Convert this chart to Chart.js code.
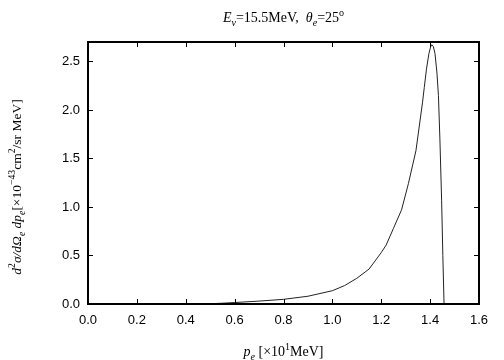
<!DOCTYPE html>
<html>
<head>
<meta charset="utf-8">
<script src="https://cdn.jsdelivr.net/npm/chart.js@4.4.1/dist/chart.umd.min.js"></script>
<style>
  html, body { margin: 0; padding: 0; background: #fff; }
  #wrap { width: 504px; height: 360px; }
</style>
</head>
<body>
<div id="wrap"><canvas id="xsChart" width="504" height="360"></canvas></div>
<script>
// electron momentum p_e [x10 MeV] and cross section [x10^-43 cm^2/sr MeV]
const momentum = [0.45, 0.5, 0.55, 0.6, 0.7, 0.8, 0.9, 1.0, 1.05, 1.1, 1.15, 1.2, 1.22, 1.25, 1.283, 1.311, 1.342, 1.369, 1.376, 1.385, 1.395, 1.402, 1.407, 1.413, 1.42, 1.428, 1.434, 1.44, 1.447, 1.452, 1.457];
const crossSection = [0.0, 0.003, 0.008, 0.015, 0.03, 0.048, 0.08, 0.137, 0.19, 0.265, 0.36, 0.53, 0.607, 0.78, 0.97, 1.24, 1.58, 2.08, 2.23, 2.42, 2.58, 2.65, 2.672, 2.655, 2.58, 2.38, 2.15, 1.7, 1.07, 0.5, 0.0];
const xTicks = [0, 0.2, 0.4, 0.6, 0.8, 1.0, 1.2, 1.4, 1.6];
const yTicks = [0, 0.5, 1.0, 1.5, 2.0, 2.5];

const serif = '"Liberation Serif", "DejaVu Serif", serif';

// draws a row of text pieces (italic / sub / sup) centred on (cx, cy)
function richText(ctx, parts, cx, cy, size, angle) {
  ctx.save();
  ctx.translate(cx, cy);
  ctx.rotate(angle || 0);
  ctx.textBaseline = 'alphabetic';
  ctx.textAlign = 'left';
  let total = 0;
  const sized = parts.map(p => {
    const s = p.sub || p.sup ? size * 0.72 : size;
    const font = (p.it ? 'italic ' : '') + s + 'px ' + serif;
    ctx.font = font;
    const w = ctx.measureText(p.t).width;
    total += w;
    return { t: p.t, font: font, w: w, dy: p.sub ? size * 0.3 : p.sup ? -size * 0.42 : 0 };
  });
  let x = -total / 2;
  ctx.fillStyle = '#000';
  sized.forEach(p => {
    ctx.font = p.font;
    ctx.fillText(p.t, x, size * 0.35 + p.dy);
    x += p.w;
  });
  ctx.restore();
}

const frame = {
  id: 'frame',
  afterDraw(chart) {
    const { ctx, chartArea: a, scales } = chart;
    ctx.save();
    ctx.strokeStyle = '#000';
    ctx.lineWidth = 1;
    xTicks.forEach(v => {
      const px = Math.round(scales.x.getPixelForValue(v)) + 0.5;
      ctx.beginPath();
      ctx.moveTo(px, a.bottom); ctx.lineTo(px, a.bottom - 5);
      ctx.moveTo(px, a.top); ctx.lineTo(px, a.top + 5);
      ctx.stroke();
    });
    yTicks.forEach(v => {
      const py = Math.round(scales.y.getPixelForValue(v)) + 0.5;
      ctx.beginPath();
      ctx.moveTo(a.left, py); ctx.lineTo(a.left + 5, py);
      ctx.moveTo(a.right, py); ctx.lineTo(a.right - 5, py);
      ctx.stroke();
    });
    ctx.lineWidth = 2;
    ctx.strokeRect(a.left, a.top, a.right - a.left, a.bottom - a.top);
    ctx.restore();

    const mid = (a.left + a.right) / 2;
    richText(ctx, [
      { t: 'E', it: true }, { t: 'ν', it: true, sub: true },
      { t: '=15.5MeV,  ' }, { t: 'θ', it: true }, { t: 'e', it: true, sub: true },
      { t: '=25' }, { t: 'o', sup: true }
    ], mid, 17, 14);
    richText(ctx, [
      { t: 'p', it: true }, { t: 'e', it: true, sub: true },
      { t: ' [×10' }, { t: '1', sup: true }, { t: 'MeV]' }
    ], mid, 351, 14);
    richText(ctx, [
      { t: 'd', it: true }, { t: '2', sup: true }, { t: 'σ/dΩ', it: true },
      { t: 'e', it: true, sub: true }, { t: ' dp', it: true }, { t: 'e', it: true, sub: true },
      { t: '[×10' }, { t: '−43', sup: true }, { t: 'cm' }, { t: '2', sup: true },
      { t: '/sr MeV]' }
    ], 16, 187, 13.5, -Math.PI / 2);
  }
};

new Chart(document.getElementById('xsChart').getContext('2d'), {
  type: 'line',
  data: {
    datasets: [{
      data: momentum.map((x, i) => ({ x: x, y: crossSection[i] })),
      borderColor: '#222',
      borderWidth: 1,
      pointRadius: 0,
      tension: 0,
      fill: false
    }]
  },
  options: {
    responsive: false,
    animation: false,
    layout: { padding: { left: 0, right: 25, top: 42, bottom: 0 } },
    plugins: { legend: { display: false }, tooltip: { enabled: false } },
    scales: {
      x: {
        type: 'linear',
        min: 0, max: 1.6,
        afterFit: s => { s.height = 56; },
        afterBuildTicks: s => { s.ticks = xTicks.map(v => ({ value: v })); },
        grid: { display: false, drawTicks: false },
        border: { display: false },
        ticks: {
          padding: 9,
          color: '#000',
          font: { family: '"Liberation Sans", Arial, sans-serif', size: 13 },
          callback: v => v.toFixed(1)
        }
      },
      y: {
        min: 0, max: 2.7,
        afterFit: s => { s.width = 88; },
        afterBuildTicks: s => { s.ticks = yTicks.map(v => ({ value: v })); },
        grid: { display: false, drawTicks: false },
        border: { display: false },
        ticks: {
          padding: 8,
          color: '#000',
          font: { family: '"Liberation Sans", Arial, sans-serif', size: 13 },
          callback: v => v.toFixed(1)
        }
      }
    }
  },
  plugins: [frame]
});
</script>
</body>
</html>
